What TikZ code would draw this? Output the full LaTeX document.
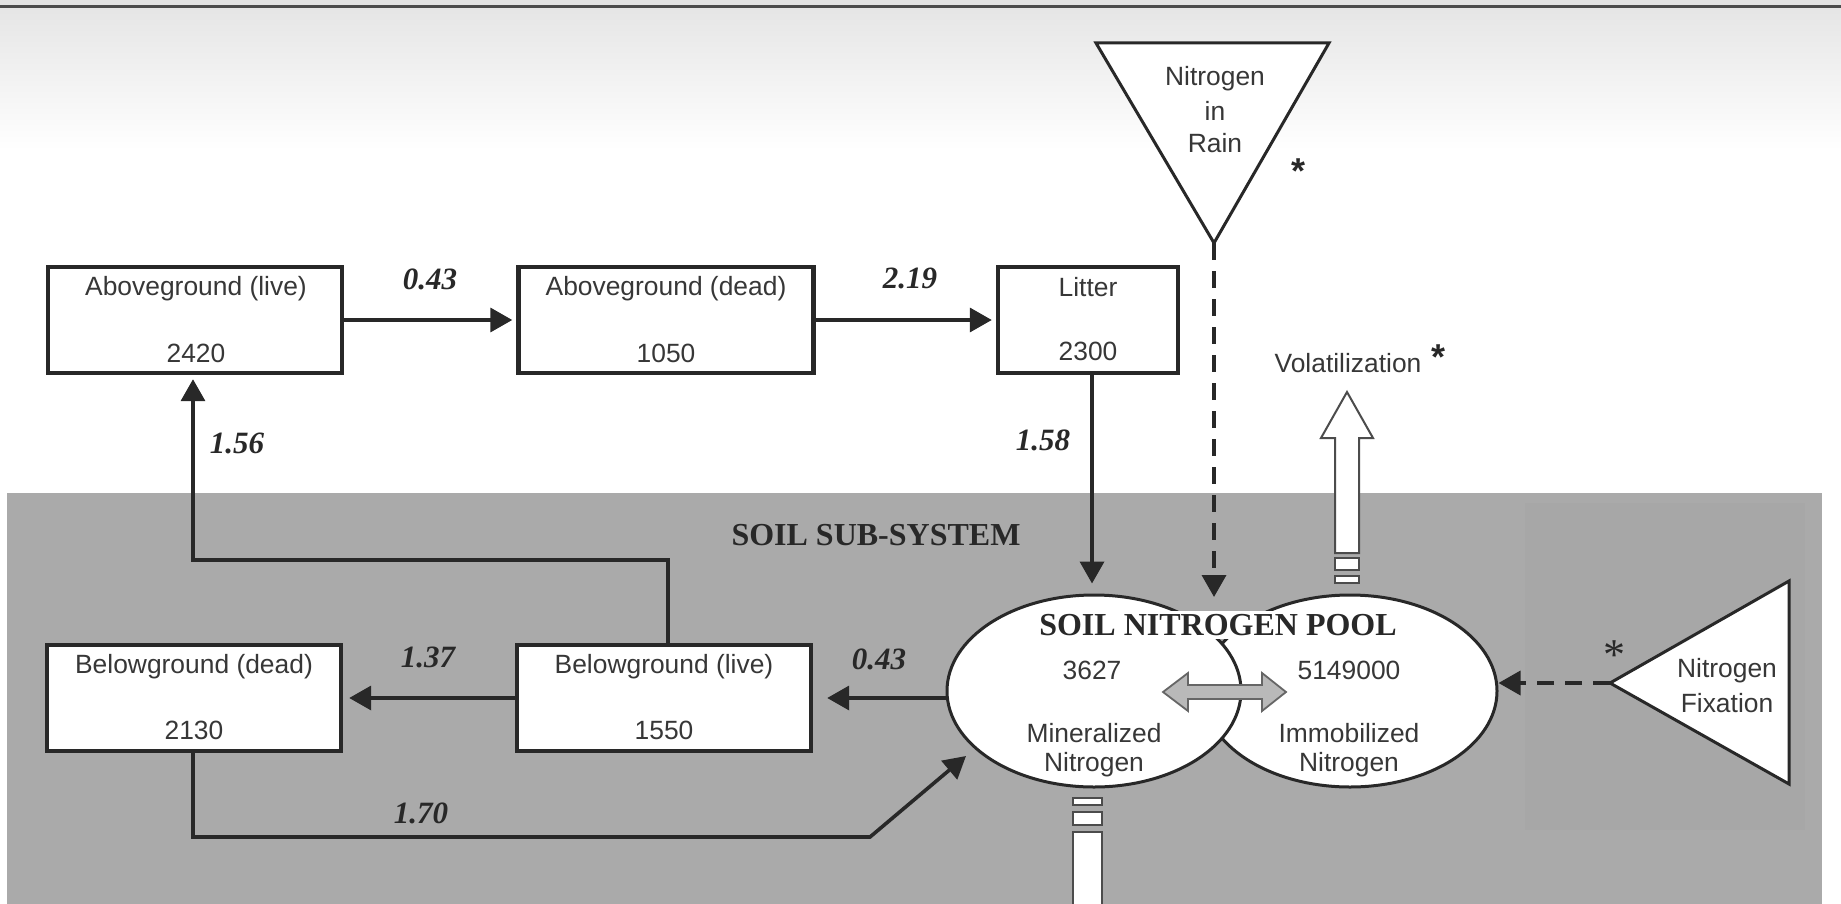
\documentclass[tikz,border=0pt]{standalone}
\usepackage{fontspec}
\setmainfont{Liberation Sans}
\newfontfamily\myserif{Liberation Serif}
\usetikzlibrary{arrows.meta,shapes.geometric,calc}
\newcommand\mylbl{\fontsize{13.2pt}{15pt}\selectfont}
\newcommand\mynum{\myserif\bfseries\itshape\fontsize{15.5pt}{18pt}\selectfont}
\newcommand\mytitle{\myserif\bfseries\fontsize{16pt}{19pt}\selectfont}
\definecolor{soil}{RGB}{170,170,170}
\definecolor{soildk}{RGB}{167,167,167}
\definecolor{ink}{RGB}{40,40,40}
\definecolor{txt}{RGB}{55,55,55}
\tikzset{
  boxnode/.style={draw=ink, line width=2.2pt, fill=white, minimum height=53pt, inner sep=0pt},
  lbl/.style={font=\mylbl, text=txt, inner sep=0pt},
  num/.style={font=\mynum, text=ink, inner sep=0pt},
  arr/.style={line width=1.8pt, draw=ink, -{Triangle[length=11pt,width=12pt]}},
  darr/.style={arr, dash pattern=on 8.5pt off 5.5pt},
  hollow/.style={draw=black!70, line width=1pt, fill=white},
  poolell/.style={ellipse, draw=ink, line width=1.5pt, fill=white, minimum width=147pt, minimum height=96pt, inner sep=0pt},
  astnode/.style={font=\bfseries\fontsize{18pt}{18pt}\selectfont, text=ink, inner sep=0pt}
}
\begin{document}
\begin{tikzpicture}[x=0.5pt,y=-0.5pt]
\useasboundingbox[fill=white] (0,0) rectangle (1841,904);
% top background
\shade[top color=gray!20, bottom color=white] (0,8) rectangle (1841,150);
\fill[gray!22] (0,0) rectangle (1841,6);
\draw[line width=1.5pt, draw=black!70] (0,7) -- (1841,7);
% soil sub-system
\fill[soil] (7,493) rectangle (1822,904);
\fill[soildk] (1525,503) rectangle (1805,830);

% boxes
\node[boxnode, minimum width=147pt] (AGL) at (195,320) {};
\node[lbl] (AGLa) at (196,289) {Aboveground (live)};
\node[lbl] (AGLb) at (196,353) {2420};
\node[boxnode, minimum width=147.5pt] (AGD) at (666,320) {};
\node[lbl] (AGDa) at (666,289) {Aboveground (dead)};
\node[lbl] (AGDb) at (666,353) {1050};
\node[boxnode, minimum width=90pt] (LIT) at (1088,320) {};
\node[lbl] (LITa) at (1088,287) {Litter};
\node[lbl] (LITb) at (1088,351) {2300};
\node[boxnode, minimum width=147pt] (BGD) at (194,698) {};
\node[lbl] (BGDa) at (194,667) {Belowground (dead)};
\node[lbl] (BGDb) at (194,730) {2130};
\node[boxnode, minimum width=147pt] (BGL) at (664,698) {};
\node[lbl] (BGLa) at (664,667) {Belowground (live)};
\node[lbl] (BGLb) at (664,730) {1550};

% soil nitrogen pool
\node[poolell] (R) at (1350,691) {};
\node[poolell] (L) at (1094,691) {};
\draw[fill=gray!55, draw=black!60, line width=0.9pt]
  (1163,692) -- (1188,673) -- (1188,685) -- (1262,685) -- (1262,673) -- (1286,692)
  -- (1262,711) -- (1262,699) -- (1188,699) -- (1188,711) -- cycle;
\node[fill=white, inner sep=1.5pt, font=\mytitle, text=ink] (T) at (1218,625) {SOIL NITROGEN POOL};
\node[lbl] (m1) at (1092,670) {3627};
\node[lbl] (m2) at (1094,733) {Mineralized};
\node[lbl] (m3) at (1094,765) {Nitrogen};
\node[lbl] (i1) at (1349,670) {5149000};
\node[lbl] (i2) at (1349,733) {Immobilized};
\node[lbl] (i3) at (1349,765) {Nitrogen};

% nitrogen in rain
\draw[line width=1.5pt, draw=ink, fill=white] (1096,43) -- (1329,43) -- (1214,243) -- cycle;
\coordinate (rainapex) at (1214,243);
\coordinate (rainend) at (1214,597);
\node[lbl] (r1) at (1215,79) {Nitrogen};
\node[lbl] (r2) at (1215,111) {in};
\node[lbl] (r3) at (1215,143) {Rain};
\node[astnode] (ast1) at (1298,171) {*};

% nitrogen fixation
\draw[line width=1.5pt, draw=ink, fill=white] (1610,683) -- (1789,581) -- (1789,784) -- cycle;
\coordinate (fixapex) at (1610,683);
\node[lbl] (f1) at (1727,671) {Nitrogen};
\node[lbl] (f2) at (1727,703) {Fixation};
\node[font=\myserif\fontsize{22pt}{22pt}\selectfont, text=ink, inner sep=0pt] (ast3) at (1614,655) {*};

% volatilization
\node[lbl] (vol) at (1348,363) {Volatilization};
\node[astnode] (ast2) at (1438,357) {*};
\draw[hollow] (1335,553) -- (1335,438) -- (1321,438) -- (1347,392) -- (1373,438) -- (1359,438) -- (1359,553) -- cycle;
\draw[hollow] (1335,558) rectangle (1359,570);
\draw[hollow] (1335,576) rectangle (1359,583);
% leaching (bottom)
\draw[hollow] (1073,798) rectangle (1102,805);
\draw[hollow] (1073,812) rectangle (1102,825);
\draw[hollow] (1073,915) -- (1073,832) -- (1102,832) -- (1102,915);

% flows
\draw[arr, shorten >=2pt] (AGL.east) -- (AGD.west);
\draw[arr, shorten >=2pt] (AGD.east) -- (LIT.west);
\draw[arr] ($(LIT.south)+(4,0)$) -- ($(L.north)+(-2,-10)$);
\draw[darr] (rainapex) -- (rainend);
\draw[darr] (fixapex) -- (fixapex -| R.east);
\coordinate (c156) at (193,560);
\draw[arr, shorten >=2pt] ($(BGL.north)+(4,0)$) |- (c156) -- (c156 |- AGL.south);
\coordinate (c170a) at (870,837);
\coordinate (c170b) at (966,756);
\draw[arr] ($(BGD.south)+(-1,0)$) |- (c170a) -- (c170b);
\draw[arr, shorten >=3pt] (BGL.west) -- (BGD.east);
\draw[arr, shorten >=7pt] (L.west |- BGL.east) -- (BGL.east);

% flow values
\node[num] (n043a) at (430,279) {0.43};
\node[num] (n219) at (910,278) {2.19};
\node[num] (n156) at (237,443) {1.56};
\node[num] (n158) at (1043,440) {1.58};
\node[num] (n137) at (428,657) {1.37};
\node[num] (n043b) at (879,659) {0.43};
\node[num] (n170) at (421,813) {1.70};
\node[font=\mytitle, text=ink, inner sep=0pt] (soiltitle) at (876,535) {SOIL SUB-SYSTEM};
\end{tikzpicture}
\end{document}
